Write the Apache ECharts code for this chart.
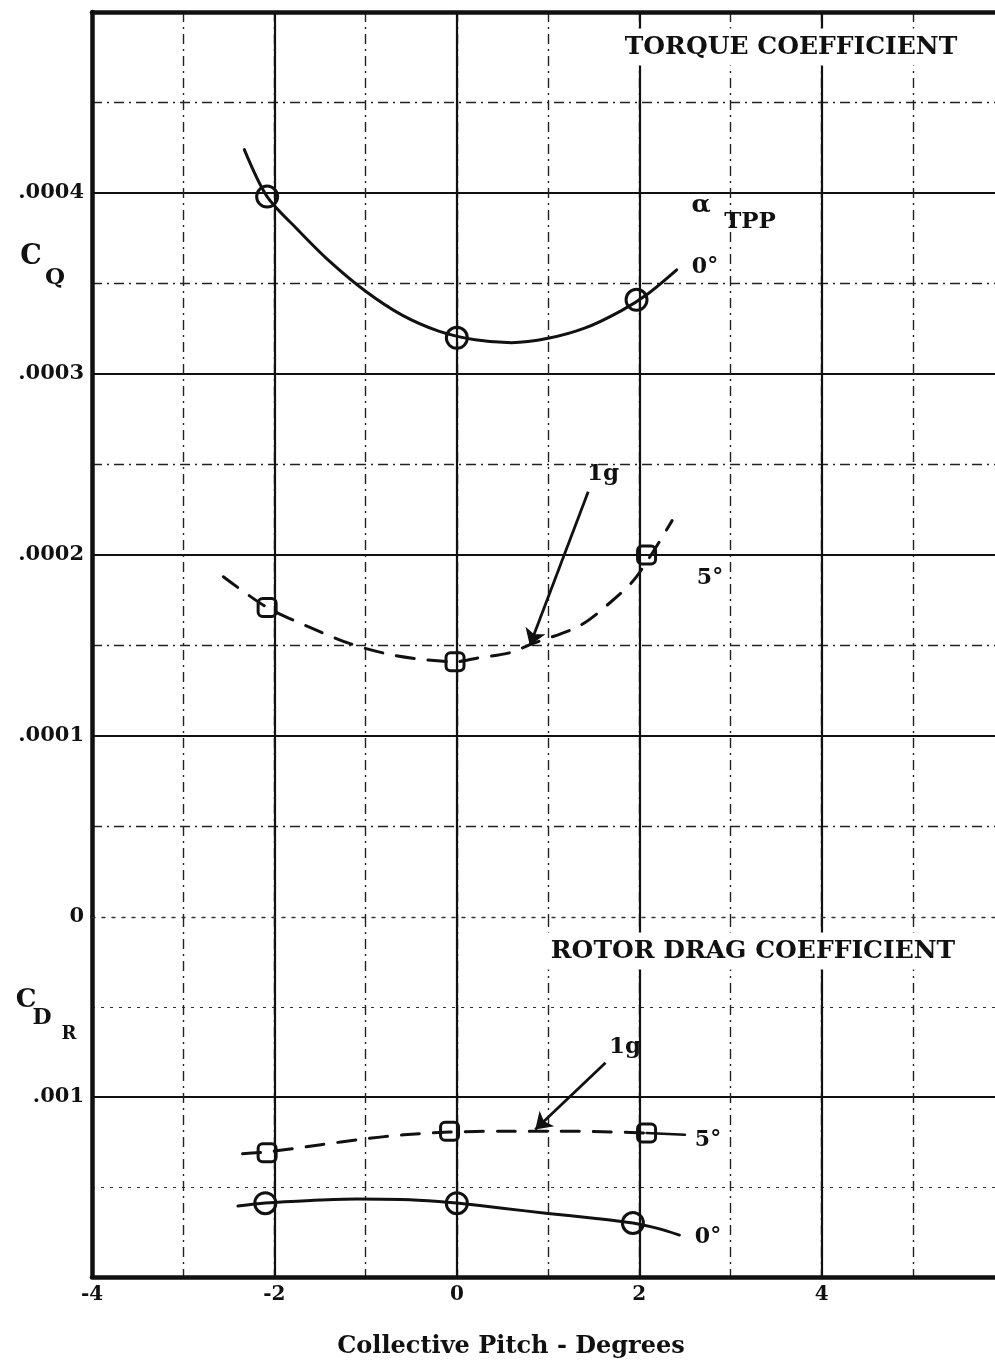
<!DOCTYPE html>
<html>
<head>
<meta charset="utf-8">
<title>Torque and Rotor Drag Coefficient vs Collective Pitch</title>
<script src="https://cdn.jsdelivr.net/npm/echarts@6/dist/echarts.min.js"></script>
<style>
  html, body { margin: 0; padding: 0; background: #fff; }
  #chart { width: 995px; height: 1362px; }
</style>
</head>
<body>
<div id="chart"></div>
<script>
// ---- Collective pitch axis (degrees) ----
const pitchMin = -4;
const pitchMax = 5.9;
const pitchMajorStep = 2;
const pitchMinorStep = 1;

// ---- Torque coefficient C_Q, alpha_TPP = 0 deg ----
const cq0PointsX = [-2.08, 0.0, 1.97];
const cq0PointsY = [0.000398, 0.000320, 0.000341];
const cq0CurveX = [-2.33, -2.08, -1.75, -1.40, -1.00, -0.60, -0.20, 0.20, 0.60, 1.00, 1.40, 1.80, 2.10, 2.41];
const cq0CurveY = [0.000424, 0.000398, 0.000380, 0.0003625, 0.0003457, 0.0003325, 0.0003237, 0.0003189, 0.0003173, 0.0003197, 0.0003253, 0.0003349, 0.0003445, 0.0003575];

// ---- Torque coefficient C_Q, alpha_TPP = 5 deg ----
const cq5PointsX = [-2.08, -0.02, 2.08];
const cq5PointsY = [0.000171, 0.000141, 0.000200];
const cq5CurveX = [-2.56, -2.08, -1.61, -1.17, -0.73, -0.33, -0.02, 0.22, 0.58, 0.83, 1.35, 1.71, 1.97, 2.36];
const cq5CurveY = [0.000188, 0.000171, 0.000160, 0.000151, 0.000145, 0.000142, 0.000141, 0.000143, 0.000146, 0.000151, 0.000161, 0.000175, 0.000188, 0.000219];

// 1g pointer on the torque plot
const cqArrowX = [1.44, 0.80];
const cqArrowY = [0.000235, 0.000150];

// ---- Rotor drag coefficient C_DR, alpha_TPP = 5 deg ----
const cd5PointsX = [-2.08, -0.08, 2.08];
const cd5PointsY = [0.00131, 0.00119, 0.00120];
const cd5CurveX = [-2.35, -2.08, -1.49, -1.05, -0.58, -0.08, 0.50, 1.00, 1.50, 2.08];
const cd5CurveY = [0.001315, 0.001305, 0.001265, 0.001235, 0.001210, 0.001195, 0.001190, 0.001190, 0.001192, 0.001200];
const cd5LeaderX = [2.08, 2.50];
const cd5LeaderY = [0.00120, 0.00121];

// ---- Rotor drag coefficient C_DR, alpha_TPP = 0 deg ----
const cd0PointsX = [-2.10, 0.0, 1.93];
const cd0PointsY = [0.00159, 0.00159, 0.00170];
const cd0CurveX = [-2.40, -2.10, -1.60, -1.10, -0.60, -0.20, 0.00, 0.50, 1.00, 1.50, 1.93, 2.20, 2.44];
const cd0CurveY = [0.001606, 0.001589, 0.001575, 0.001567, 0.001570, 0.001580, 0.001589, 0.001618, 0.001647, 0.001673, 0.001700, 0.001730, 0.001767];

// 1g pointer on the drag plot
const cdArrowX = [1.63, 0.86];
const cdArrowY = [0.00081, 0.00118];

// ---- Coefficient axis ranges ----
const cqMax = 0.0005, cqStep = 0.0001;
const cdMax = 0.002, cdStep = 0.001;

const zip = (xs, ys) => xs.map((x, i) => [x, ys[i]]);

const INK = '#111';
const FONT = 'DejaVu Serif';

const majorLine = { show: true, showMinLine: false, showMaxLine: false, lineStyle: { color: INK, width: 2.2, type: 'solid' } };
const minorLine = { show: true, showMinLine: false, showMaxLine: false, lineStyle: { color: '#222', width: 1.4, type: [10, 5, 2, 5] } };
const heavyAxis = { show: true, onZero: false, lineStyle: { color: INK, width: 4.5 } };

function cqLabel(v) {
  const n = Math.round(v / 0.0001);
  if (n === 0) return '0';
  if (n >= 5) return '';
  return '.000' + n;
}
function cdLabel(v) {
  const n = Math.round(v / 0.001);
  return n === 1 ? '.001' : '';
}

// series use the major pitch axes (indices 2 and 3)
function curve(xs, ys, g, dashed, width) {
  return {
    type: 'line', xAxisIndex: g + 2, yAxisIndex: g, data: zip(xs, ys),
    smooth: 0.3, symbol: 'none', silent: true, z: 3,
    lineStyle: { color: INK, width: width || 3, type: dashed ? [18, 14] : 'solid', cap: 'round' }
  };
}
function markers(xs, ys, g, symbol, size) {
  return {
    type: 'scatter', xAxisIndex: g + 2, yAxisIndex: g, data: zip(xs, ys),
    symbol: symbol, symbolSize: size, silent: true, z: 4,
    itemStyle: { color: 'rgba(0,0,0,0)', borderColor: INK, borderWidth: 3, opacity: 1 }
  };
}
function pointer(xs, ys, g) {
  return {
    type: 'lines', coordinateSystem: 'cartesian2d', xAxisIndex: g + 2, yAxisIndex: g,
    data: [{ coords: zip(xs, ys) }], symbol: ['none', 'arrow'], symbolSize: [0, 16],
    silent: true, z: 4,
    lineStyle: { color: INK, width: 2.8, opacity: 1, curveness: 0 }
  };
}
function txt(x, y, text, size, extra) {
  return {
    type: 'text', x: x, y: y, z: 100,
    style: Object.assign({
      text: text, fill: INK, fontFamily: FONT, fontWeight: 'bold', fontSize: size,
      align: 'center', verticalAlign: 'middle'
    }, extra || {})
  };
}

const chart = echarts.init(document.getElementById('chart'), null, { renderer: 'canvas' });

const xBase = {
  type: 'value', min: pitchMin, max: pitchMax,
  axisTick: { show: false }
};

chart.setOption({
  animation: false,
  backgroundColor: '#fff',
  grid: [
    { left: 92, top: 12, right: 0, height: 905, containLabel: false },
    { left: 92, top: 917, right: 0, height: 360, containLabel: false }
  ],
  xAxis: [
    // odd-degree dash-dot rulings; the upper one also carries the top border
    Object.assign({}, xBase, {
      gridIndex: 0, position: 'top', interval: pitchMinorStep, z: 0,
      axisLine: heavyAxis, axisLabel: { show: false }, splitLine: minorLine
    }),
    Object.assign({}, xBase, {
      gridIndex: 1, position: 'top', interval: pitchMinorStep, z: 0,
      axisLine: { show: false }, axisLabel: { show: false }, splitLine: minorLine
    }),
    // every-2-degree solid rulings
    Object.assign({}, xBase, {
      gridIndex: 0, position: 'bottom', interval: pitchMajorStep, z: 1,
      axisLabel: { show: false }, splitLine: majorLine,
      axisLine: { show: true, onZero: false, lineStyle: { color: '#333', width: 1.3, type: [3, 7] } }
    }),
    Object.assign({}, xBase, {
      gridIndex: 1, position: 'bottom', interval: pitchMajorStep, z: 1,
      splitLine: majorLine, axisLine: heavyAxis,
      axisLabel: {
        show: true, color: INK, fontFamily: FONT, fontWeight: 'bold', fontSize: 20, margin: 8,
        showMaxLabel: false
      }
    })
  ],
  yAxis: [
    {
      type: 'value', gridIndex: 0, min: 0, max: cqMax, interval: cqStep,
      axisLine: heavyAxis, axisTick: { show: false },
      minorTick: { show: false, splitNumber: 2 },
      splitLine: majorLine, minorSplitLine: minorLine,
      axisLabel: { color: INK, fontFamily: FONT, fontWeight: 'bold', fontSize: 21, margin: 8, formatter: cqLabel }
    },
    {
      type: 'value', gridIndex: 1, min: 0, max: cdMax, interval: cdStep, inverse: true,
      axisLine: heavyAxis, axisTick: { show: false },
      minorTick: { show: false, splitNumber: 2 },
      splitLine: majorLine,
      minorSplitLine: { show: true, lineStyle: { color: '#333', width: 1.2, type: [3, 6] } },
      axisLabel: { color: INK, fontFamily: FONT, fontWeight: 'bold', fontSize: 21, margin: 8, formatter: cdLabel }
    }
  ],
  series: [
    curve(cq0CurveX, cq0CurveY, 0, false),
    markers(cq0PointsX, cq0PointsY, 0, 'circle', 21),
    curve(cq5CurveX, cq5CurveY, 0, true),
    markers(cq5PointsX, cq5PointsY, 0, 'roundRect', 18),
    pointer(cqArrowX, cqArrowY, 0),

    curve(cd5CurveX, cd5CurveY, 1, true),
    curve(cd5LeaderX, cd5LeaderY, 1, false, 2.6),
    markers(cd5PointsX, cd5PointsY, 1, 'roundRect', 18),
    curve(cd0CurveX, cd0CurveY, 1, false),
    markers(cd0PointsX, cd0PointsY, 1, 'circle', 21),
    pointer(cdArrowX, cdArrowY, 1)
  ],
  graphic: [
    // axis titles
    txt(31, 257, 'C', 27),
    txt(55, 278, 'Q', 23),
    txt(26, 1000, 'C', 26),
    txt(42, 1018, 'D', 22),
    txt(69, 1034, 'R', 18),
    txt(511, 1347, 'Collective Pitch - Degrees', 24),

    // panel headings
    txt(791, 47, 'TORQUE COEFFICIENT', 25, { backgroundColor: '#fff', padding: [6, 4, 6, 4] }),
    txt(753, 951, 'ROTOR DRAG COEFFICIENT', 25, { backgroundColor: '#fff', padding: [6, 4, 6, 4] }),

    // alpha_TPP key and curve labels
    txt(701, 205, 'α', 25),
    txt(750, 222, 'TPP', 23),
    txt(705, 267, '0°', 22),
    txt(710, 578, '5°', 22),
    txt(603, 474, '1g', 23),
    txt(625, 1047, '1g', 23),
    txt(708, 1140, '5°', 22),
    txt(708, 1237, '0°', 22)
  ]
});
</script>
</body>
</html>
